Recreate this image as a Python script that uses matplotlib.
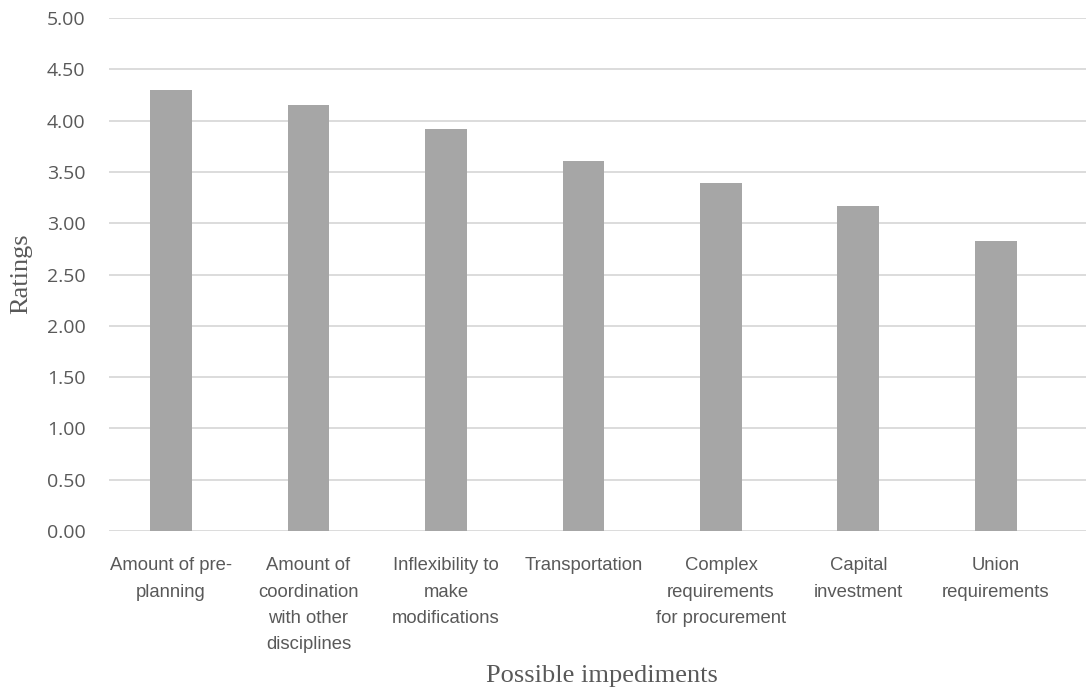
import matplotlib
matplotlib.use("Agg")
import matplotlib.pyplot as plt
import numpy as np

# data
categories = [
    "Amount of pre-\nplanning",
    "Amount of\ncoordination\nwith other\ndisciplines",
    "Inflexibility to\nmake\nmodifications",
    "Transportation",
    "Complex\nrequirements\nfor procurement",
    "Capital\ninvestment",
    "Union\nrequirements",
]
ratings = [4.30, 4.15, 3.92, 3.61, 3.39, 3.17, 2.83]
y_ticks = [0.0, 0.5, 1.0, 1.5, 2.0, 2.5, 3.0, 3.5, 4.0, 4.5, 5.0]

TEXT = "#595959"

fig = plt.figure(figsize=(10.86, 6.94), dpi=100)
ax = fig.add_axes([109 / 1086, 163 / 694, 977 / 1086, 513 / 694])

x = np.arange(len(categories))
ax.bar(x, ratings, width=0.305, color="#a6a6a6", zorder=3)

ax.set_xlim(-0.451, 6.655)
ax.set_ylim(0, 5)
ax.set_yticks(y_ticks)
ax.set_yticklabels([f"{v:.2f}" for v in y_ticks], fontfamily="Open Sans",
                   fontsize=14, color=TEXT)
ax.set_xticks(x)
ax.set_xticklabels(categories, fontfamily="Liberation Sans",
                   fontsize=13.3, color=TEXT, linespacing=1.72)

ax.yaxis.grid(True, color="#d9d9d9", linewidth=1.3, zorder=0)
ax.tick_params(axis="both", length=0)
ax.tick_params(axis="x", pad=19)
ax.tick_params(axis="y", pad=17)
for s in ax.spines.values():
    s.set_visible(False)

fig.text(21 / 1086, 1 - 274 / 694, "Ratings", rotation=90,
         fontfamily="Liberation Serif", fontsize=19, color=TEXT,
         ha="center", va="center")
fig.text(602 / 1086, 1 - 676 / 694, "Possible impediments",
         fontfamily="Liberation Serif", fontsize=19, color=TEXT,
         ha="center", va="center")

fig.savefig("out.png", dpi=100)
